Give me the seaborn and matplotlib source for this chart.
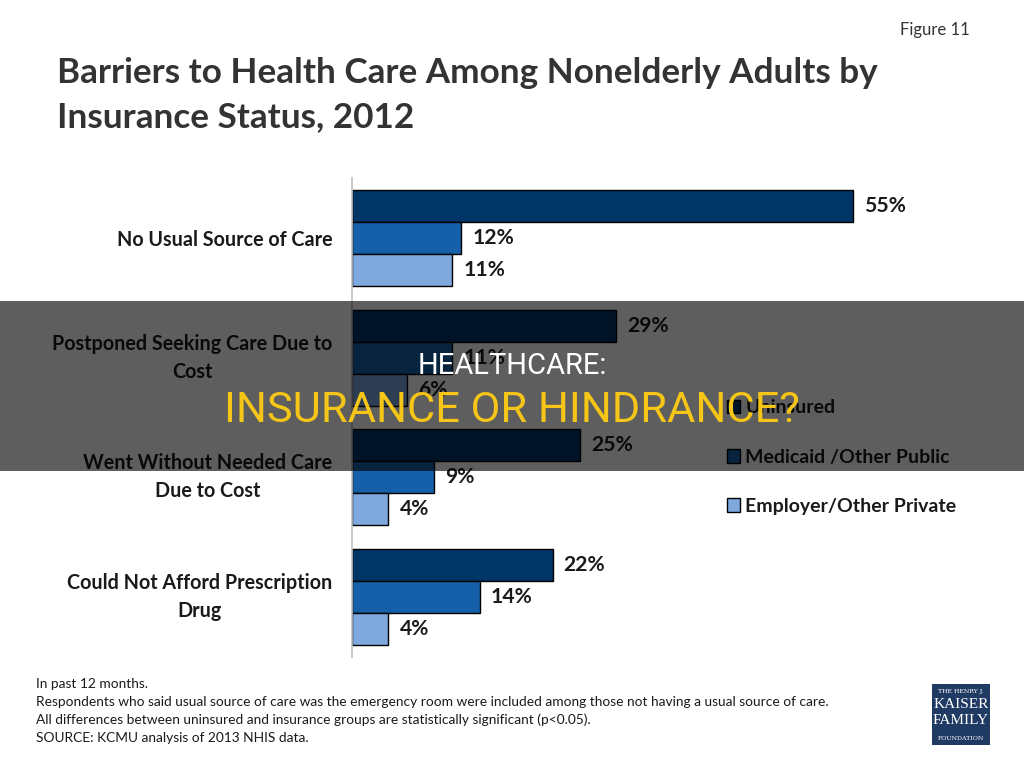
import matplotlib
matplotlib.use("Agg")
import matplotlib.pyplot as plt
import matplotlib.transforms as mtransforms
import seaborn as sns
import pandas as pd
from matplotlib.patches import Rectangle, Patch

categories = ["No Usual Source of Care",
              "Postponed Seeking Care Due to\nCost",
              "Went Without Needed Care\nDue to Cost",
              "Could Not Afford Prescription\nDrug"]
series = ["Uninsured", "Medicaid /Other Public", "Employer/Other Private"]
uninsured = [55, 29, 25, 22]
medicaid = [12, 11, 9, 14]
employer = [11, 6, 4, 4]
colors = ["#003567", "#1660AA", "#7DA9DF"]

rows = []
for s, vals in zip(series, [uninsured, medicaid, employer]):
    for c, v in zip(categories, vals):
        rows.append({"category": c, "series": s, "value": v})
df = pd.DataFrame(rows)

sns.set_style("white")
plt.rcParams["font.family"] = ["Lato", "DejaVu Sans"]

W, H = 1024, 768
fig = plt.figure(figsize=(10.24, 7.68), dpi=100)
ax = fig.add_axes([352 / W, 1 - 657 / H, 547 / W, 479 / H])

sns.barplot(data=df, y="category", x="value", hue="series", order=categories,
            hue_order=series, palette=colors, orient="h", width=0.8,
            saturation=1, edgecolor="black", linewidth=1, ax=ax, legend=False)

ax.set_xlim(0, 60)
ax.set_ylim(3.5, -0.5)
ax.set_xlabel("")
ax.set_ylabel("")
ax.set_xticks([])
for sp in ["top", "right", "bottom"]:
    ax.spines[sp].set_visible(False)
ax.spines["left"].set_color("#bfbfbf")
ax.spines["left"].set_linewidth(1.2)
ax.tick_params(axis="y", length=0, pad=14)
shift = mtransforms.ScaledTranslation(0, 6 / 100, fig.dpi_scale_trans)
for lab in ax.get_yticklabels():
    lab.set_fontweight("bold")
    lab.set_fontsize(14.2)
    lab.set_color("#1a1a1a")
    lab.set_multialignment("center")
    lab.set_linespacing(1.5)
    if "\n" in lab.get_text():
        lab.set_transform(lab.get_transform() + shift)

for cont in ax.containers:
    ax.bar_label(cont, fmt="%d%%", padding=8, fontsize=15.2, fontweight="bold",
                 color="#1a1a1a")

handles = [Patch(facecolor=c, edgecolor="black", linewidth=1) for c in colors]
fig.legend(handles, series, loc="center left",
           bbox_to_anchor=(717 / W, 1 - 457 / H), frameon=False,
           prop={"weight": "bold", "size": 14.0}, labelspacing=1.65,
           handlelength=0.7, handleheight=0.7, handletextpad=0.25,
           borderpad=0, labelcolor="#1a1a1a")

fig.text(57 / W, 1 - 95 / H,
         "Barriers to Health Care Among Nonelderly Adults by\nInsurance Status, 2012",
         fontsize=25.3, fontweight="bold", color="#333333", ha="left", va="center",
         linespacing=1.45)
fig.text(970 / W, 1 - 30 / H, "Figure 11", fontsize=12, color="#333333",
         ha="right", va="center")

notes = ["In past 12 months.",
         "Respondents who said usual source of care was the emergency room were included among those not having a usual source of care.",
         "All differences between uninsured and insurance groups are statistically significant (p<0.05).",
         "SOURCE: KCMU analysis of 2013 NHIS data."]
for i, t in enumerate(notes):
    fig.text(36 / W, 1 - (684 + i * 18) / H, t, fontsize=9.9, color="#1a1a1a",
             ha="left", va="center")

# logo
fig.patches.append(Rectangle((932 / W, 1 - 745 / H), 58 / W, 61 / H,
                             transform=fig.transFigure, facecolor="#1f3a63",
                             edgecolor="none", zorder=5))
fig.text(961 / W, 1 - 691 / H, "THE HENRY J.", fontsize=4.5, color="white",
         ha="center", va="center", family="DejaVu Serif", zorder=6)
for i, t in enumerate(["KAISER", "FAMILY"]):
    fig.text(961 / W, 1 - (705 + i * 16) / H, t, fontsize=11, color="white",
             ha="center", va="center", family="Liberation Serif", zorder=6)
fig.text(961 / W, 1 - 738 / H, "FOUNDATION", fontsize=4.5, color="white",
         ha="center", va="center", family="DejaVu Serif", zorder=6)

# overlay band
fig.patches.append(Rectangle((0, 1 - 471 / H), 1, 170 / H,
                             transform=fig.transFigure, facecolor="black",
                             alpha=0.63, edgecolor="none", zorder=20))
fig.text(512 / W, 1 - 366 / H, "HEALTHCARE:", fontsize=21, color="white",
         ha="center", va="center", family="Roboto", zorder=21)
fig.text(512 / W, 1 - 411 / H, "INSURANCE OR HINDRANCE?", fontsize=31.2,
         color="#F5C518", ha="center", va="center", family="Roboto", zorder=21)

fig.savefig("out.png", dpi=100)
